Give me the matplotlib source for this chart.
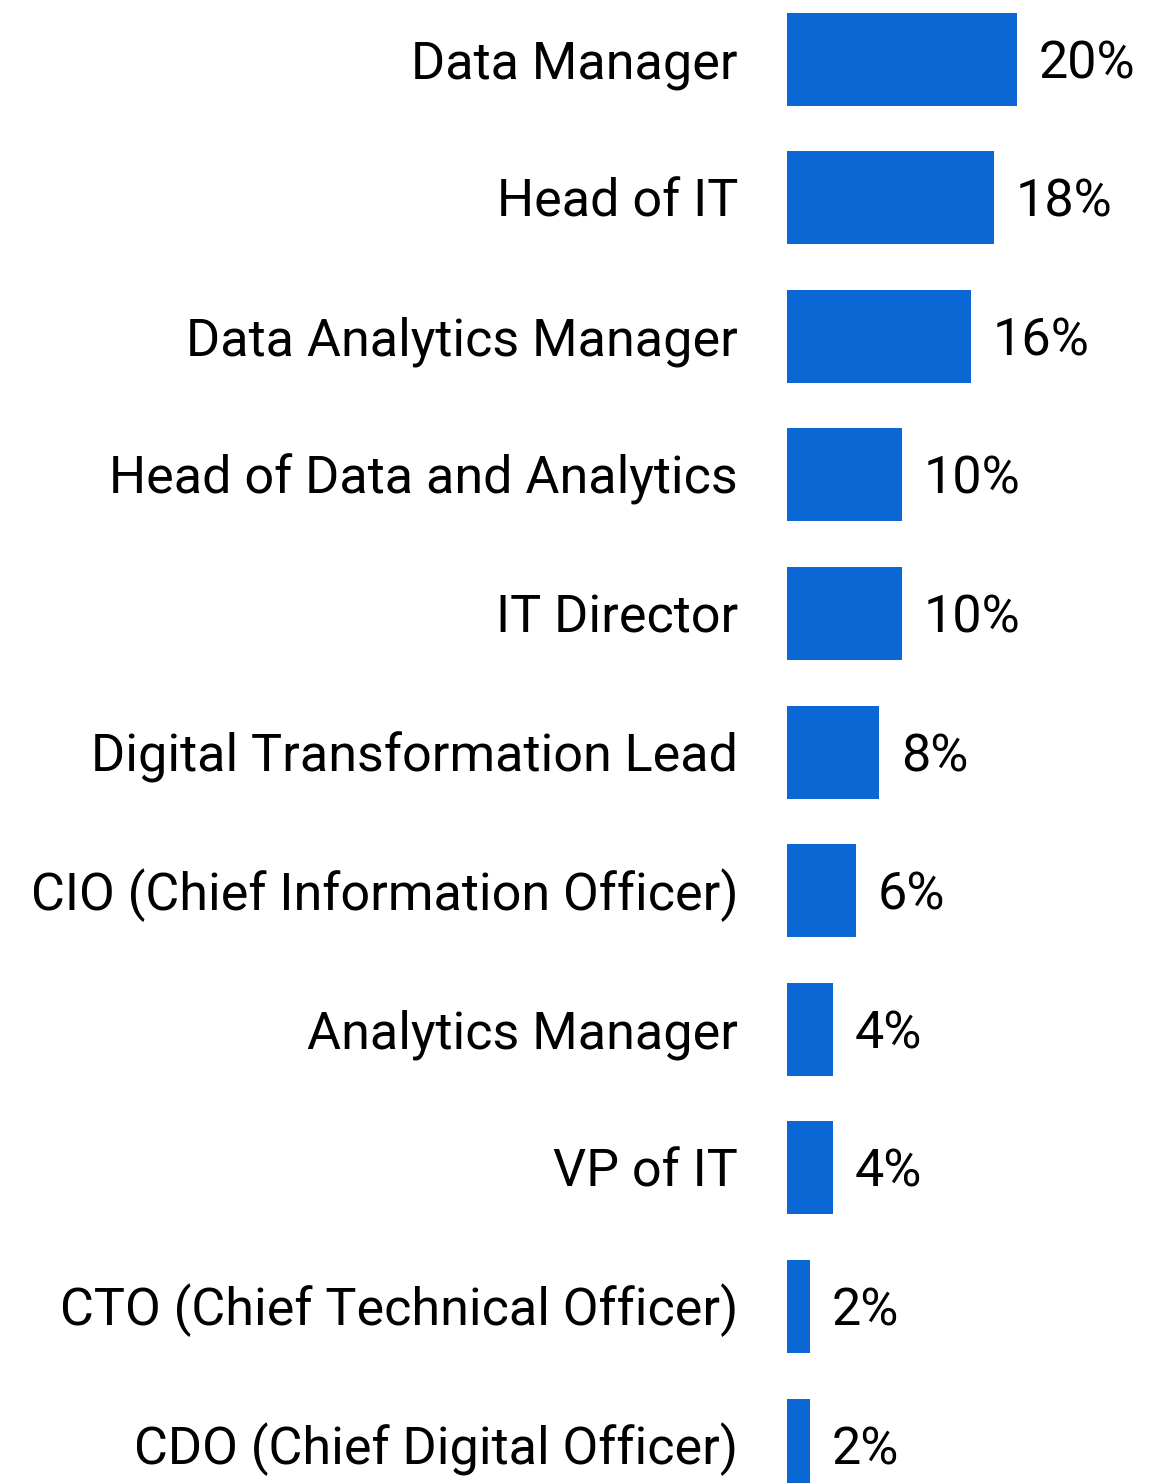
import matplotlib
matplotlib.use("Agg")
import matplotlib.pyplot as plt

categories = [
    "Data Manager",
    "Head of IT",
    "Data Analytics Manager",
    "Head of Data and Analytics",
    "IT Director",
    "Digital Transformation Lead",
    "CIO (Chief Information Officer)",
    "Analytics Manager",
    "VP of IT",
    "CTO (Chief Technical Officer)",
    "CDO (Chief Digital Officer)",
]
values = [20, 18, 16, 10, 10, 8, 6, 4, 4, 2, 2]

W, H = 1149, 1483
fig = plt.figure(figsize=(W / 100, H / 100), dpi=100)
ax_left = 787 / W
ax = fig.add_axes([ax_left, 0, 1 - ax_left, 1])

px_per_unit = 11.5
ax.set_xlim(0, (W - 787) / px_per_unit)
spacing = 138.6
first = 59
ax.set_ylim((H - first) / spacing, -first / spacing)

ypos = list(range(len(categories)))
ax.barh(ypos, values, height=93 / spacing, color="#0A67D4")

font = "Roboto"
fs = 37.5
base_off = 19 / spacing
for y, v, c in zip(ypos, values, categories):
    ax.text(v + 22 / px_per_unit, y + base_off, f"{v}%", va="baseline", ha="left",
            fontsize=fs, family=font, color="black", clip_on=False)
    ax.text(-49 / px_per_unit, y + base_off, c, va="baseline", ha="right",
            fontsize=fs, family=font, color="black", clip_on=False)

ax.axis("off")
fig.savefig("out.png", dpi=100)
